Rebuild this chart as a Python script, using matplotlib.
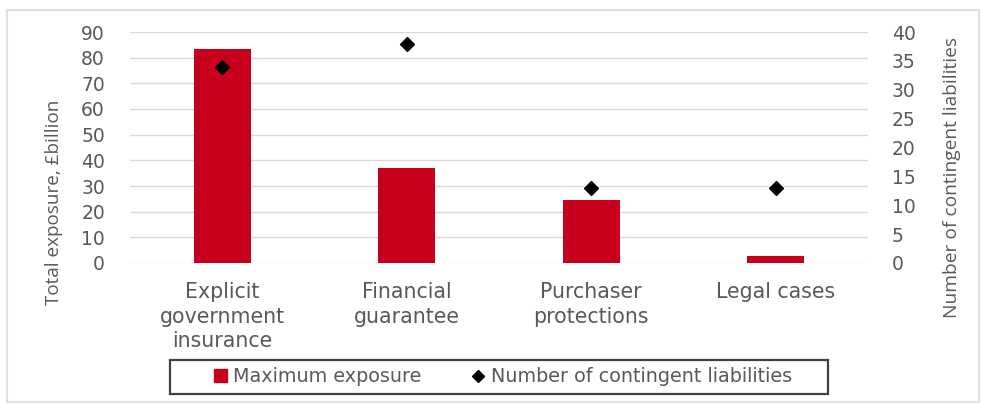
import matplotlib
matplotlib.use("Agg")
import matplotlib.pyplot as plt
from matplotlib.patches import Rectangle
from matplotlib.lines import Line2D
import numpy as np

categories = ["Explicit\ngovernment\ninsurance", "Financial\nguarantee",
              "Purchaser\nprotections", "Legal cases"]
max_exposure = [83.5, 37, 24.5, 2.8]
num_liabilities = [34, 38, 13, 13]
left_ticks = [0, 10, 20, 30, 40, 50, 60, 70, 80, 90]
right_ticks = [0, 5, 10, 15, 20, 25, 30, 35, 40]

plt.rcParams['font.family'] = ['DejaVu Sans']
TXT = '#595959'
RED = '#C8001E'

fig = plt.figure(figsize=(9.82, 4.04), dpi=100)
ax = fig.add_axes([130/982, 1-263/404, 738/982, 231/404])
x = np.arange(len(categories))
ax.bar(x, max_exposure, width=0.31, color=RED, zorder=3)
ax.set_xlim(-0.5, len(categories)-0.5)
ax.set_ylim(0, 90)
ax.set_yticks(left_ticks)
ax.yaxis.grid(True, color='#d9d9d9', linewidth=1, zorder=0)
ax.set_axisbelow(True)
for s in ax.spines.values():
    s.set_visible(False)
ax.tick_params(axis='both', length=0, colors=TXT, labelsize=13.5)
ax.tick_params(axis='y', pad=18)
ax.tick_params(axis='x', pad=14, labelsize=14.8)
ax.set_xticks(x)
ax.set_xticklabels(categories, linespacing=1.28, va='top')
ax.set_ylabel("Total exposure, £billion", color=TXT, fontsize=13.6,
              family=['Open Sans', 'DejaVu Sans'])
ax.yaxis.set_label_coords((63-130)/738, (263-202)/231)

ax2 = ax.twinx()
ax2.scatter(x, num_liabilities, marker='D', s=50, color='black', zorder=5)
ax2.set_ylim(0, 40)
ax2.set_yticks(right_ticks)
for s in ax2.spines.values():
    s.set_visible(False)
ax2.tick_params(axis='y', length=0, colors=TXT, labelsize=13.5, pad=17)
ax2.set_ylabel("Number of contingent liabilities", color=TXT, fontsize=13.8,
               family=['Open Sans', 'DejaVu Sans'])
ax2.yaxis.set_label_coords((943-130)/738, (263-177)/231)

handles = [Rectangle((0, 0), 1, 1, color=RED),
           Line2D([], [], marker='D', color='black', linestyle='none', markersize=6.5)]
leg = fig.legend(handles, ["Maximum exposure", "Number of contingent liabilities"],
                 loc='center', bbox_to_anchor=(503/982, 1-377/404), ncol=2,
                 fontsize=13.8, frameon=False, handlelength=0.65,
                 handleheight=0.65, handletextpad=0.35, columnspacing=2.6,
                 borderaxespad=0)
for t in leg.get_texts():
    t.set_color(TXT)

fig.patches.append(Rectangle((170/982, 1-394/404), 658/982, 34/404, transform=fig.transFigure,
                             fill=False, edgecolor='#404040', linewidth=1.6))
fig.patches.append(Rectangle((7/982, 2/404), 972/982, 392/404, transform=fig.transFigure,
                             fill=False, edgecolor='#e0e0e0', linewidth=1.5))

fig.savefig("out.png", dpi=100)
